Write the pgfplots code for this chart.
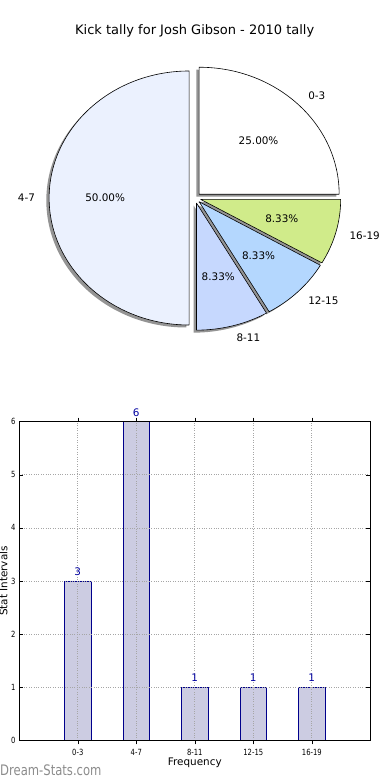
\documentclass[border=0pt]{standalone}
\usepackage{pgfplots}
\pgfplotsset{compat=1.18}
\usepackage{fontspec}
\setmainfont{DejaVu Sans}
\newfontfamily\tickfont[FakeStretch=0.8]{DejaVu Sans}
\newfontfamily\wmfont[FakeStretch=0.8]{DejaVu Sans}
\definecolor{c03}{RGB}{255,255,255}
\definecolor{c47}{RGB}{235,241,254}
\definecolor{c811}{RGB}{198,216,254}
\definecolor{c1215}{RGB}{180,215,254}
\definecolor{c1619}{RGB}{208,235,138}
\definecolor{barfill}{RGB}{204,204,226}
\definecolor{baredge}{RGB}{0,0,140}
\definecolor{vallab}{RGB}{0,0,160}
% pie geometry (pt): centre (195,582), radii 140 x 127, explode 0.042
\newcommand\pieShadow[2]{%
  \fill[black,opacity=0.42] (axis cs:{192.2+5.88*cos((#1+#2)/2)},{579.5+5.33*sin((#1+#2)/2)})
   -- (axis cs:{192.2+5.88*cos((#1+#2)/2)+140*cos(#1)},{579.5+5.33*sin((#1+#2)/2)+127*sin(#1)})
   arc[start angle=#1,end angle=#2,x radius=140pt,y radius=127pt] -- cycle;}
\newcommand\pieWedge[3]{%
  \draw[fill=#3,line width=0.6pt,line join=round] (axis cs:{195+5.88*cos((#1+#2)/2)},{582+5.33*sin((#1+#2)/2)})
   -- (axis cs:{195+5.88*cos((#1+#2)/2)+140*cos(#1)},{582+5.33*sin((#1+#2)/2)+127*sin(#1)})
   arc[start angle=#1,end angle=#2,x radius=140pt,y radius=127pt] -- cycle;}
\newcommand\pieLabel[5]{%
  \node[anchor=#5,inner sep=0pt,font=\fontsize{10.4}{12}\selectfont] at (axis cs:{195+5.88*cos((#1+#2)/2)+154*cos((#1+#2)/2)},{582+5.33*sin((#1+#2)/2)+139.7*sin((#1+#2)/2)}) {#3};
  \node[anchor=center,inner sep=0pt,font=\fontsize{10.4}{12}\selectfont] at (axis cs:{195+5.88*cos((#1+#2)/2)+84*cos((#1+#2)/2)},{582+5.33*sin((#1+#2)/2)+76.2*sin((#1+#2)/2)}) {#4};}
\begin{document}
\begin{tikzpicture}
\begin{axis}[at={(0,0)},anchor=south west,x=1pt,y=1pt,xmin=0,xmax=390,ymin=0,ymax=780,hide axis,clip=false]
% values 3,6,1,1,1 of 12 -> angles
\pieShadow{0}{90}
\pieShadow{90}{270}
\pieShadow{270}{300}
\pieShadow{300}{330}
\pieShadow{330}{360}
\pieWedge{0}{90}{c03}
\pieWedge{90}{270}{c47}
\pieWedge{270}{300}{c811}
\pieWedge{300}{330}{c1215}
\pieWedge{330}{360}{c1619}
\pieLabel{0}{90}{0-3}{25.00\%}{west}
\pieLabel{90}{270}{4-7}{50.00\%}{east}
\pieLabel{270}{300}{8-11}{8.33\%}{west}
\pieLabel{300}{330}{12-15}{8.33\%}{west}
\pieLabel{330}{360}{16-19}{8.33\%}{west}
\node[anchor=base,inner sep=0pt,font=\fontsize{13}{15}\selectfont] at (axis cs:194.7,745.7) {Kick tally for Josh Gibson - 2010 tally};
\node[anchor=base west,inner sep=0pt,text=black!45,font=\wmfont\fontsize{14.5}{16}\selectfont] at (axis cs:0,5) {Dream-Stats.com};
\end{axis}
\begin{axis}[at={(19.3pt,39.7pt)},anchor=south west,x=58.5pt,y=53.1pt,
  xmin=-1,xmax=5,ymin=0,ymax=6,
  xtick={0,1,2,3,4},xticklabels={0-3,4-7,8-11,12-15,16-19},ytick={0,1,2,3,4,5,6},
  tick align=inside,major tick length=4pt,tick style={black,line width=0.5pt},
  xtick pos=both,ytick pos=both,
  grid=major,grid style={dotted,black!35,line width=0.7pt},
  axis on top,axis line style={line width=0.8pt},
  /pgf/number format/assume math mode=true,
  xticklabel style={font=\tickfont\fontsize{8.5}{9}\selectfont,inner sep=0pt,yshift=-4.5pt},
  yticklabel style={font=\tickfont\fontsize{8.5}{9}\selectfont,inner sep=0pt,xshift=-3.6pt},
  xlabel={Frequency},ylabel={Stat Intervals},
  label style={font=\fontsize{10.4}{12}\selectfont},
  xlabel style={at={(axis description cs:0.5,0)},anchor=center,yshift=-22pt},
  ylabel style={at={(axis description cs:0,0.5)},anchor=base,yshift=11.8pt},
  ybar,bar width=26.3pt,
  nodes near coords,
  every node near coord/.append style={font=\fontsize{10.4}{12}\selectfont,text=vallab,inner sep=0pt,yshift=5pt},
]
\addplot[fill=barfill,draw=baredge,line width=0.8pt] coordinates {(0,3) (1,6) (2,1) (3,1) (4,1)};
\end{axis}
\pgfresetboundingbox
\path[use as bounding box] (0,0) rectangle (390pt,780pt);
\end{tikzpicture}
\end{document}
